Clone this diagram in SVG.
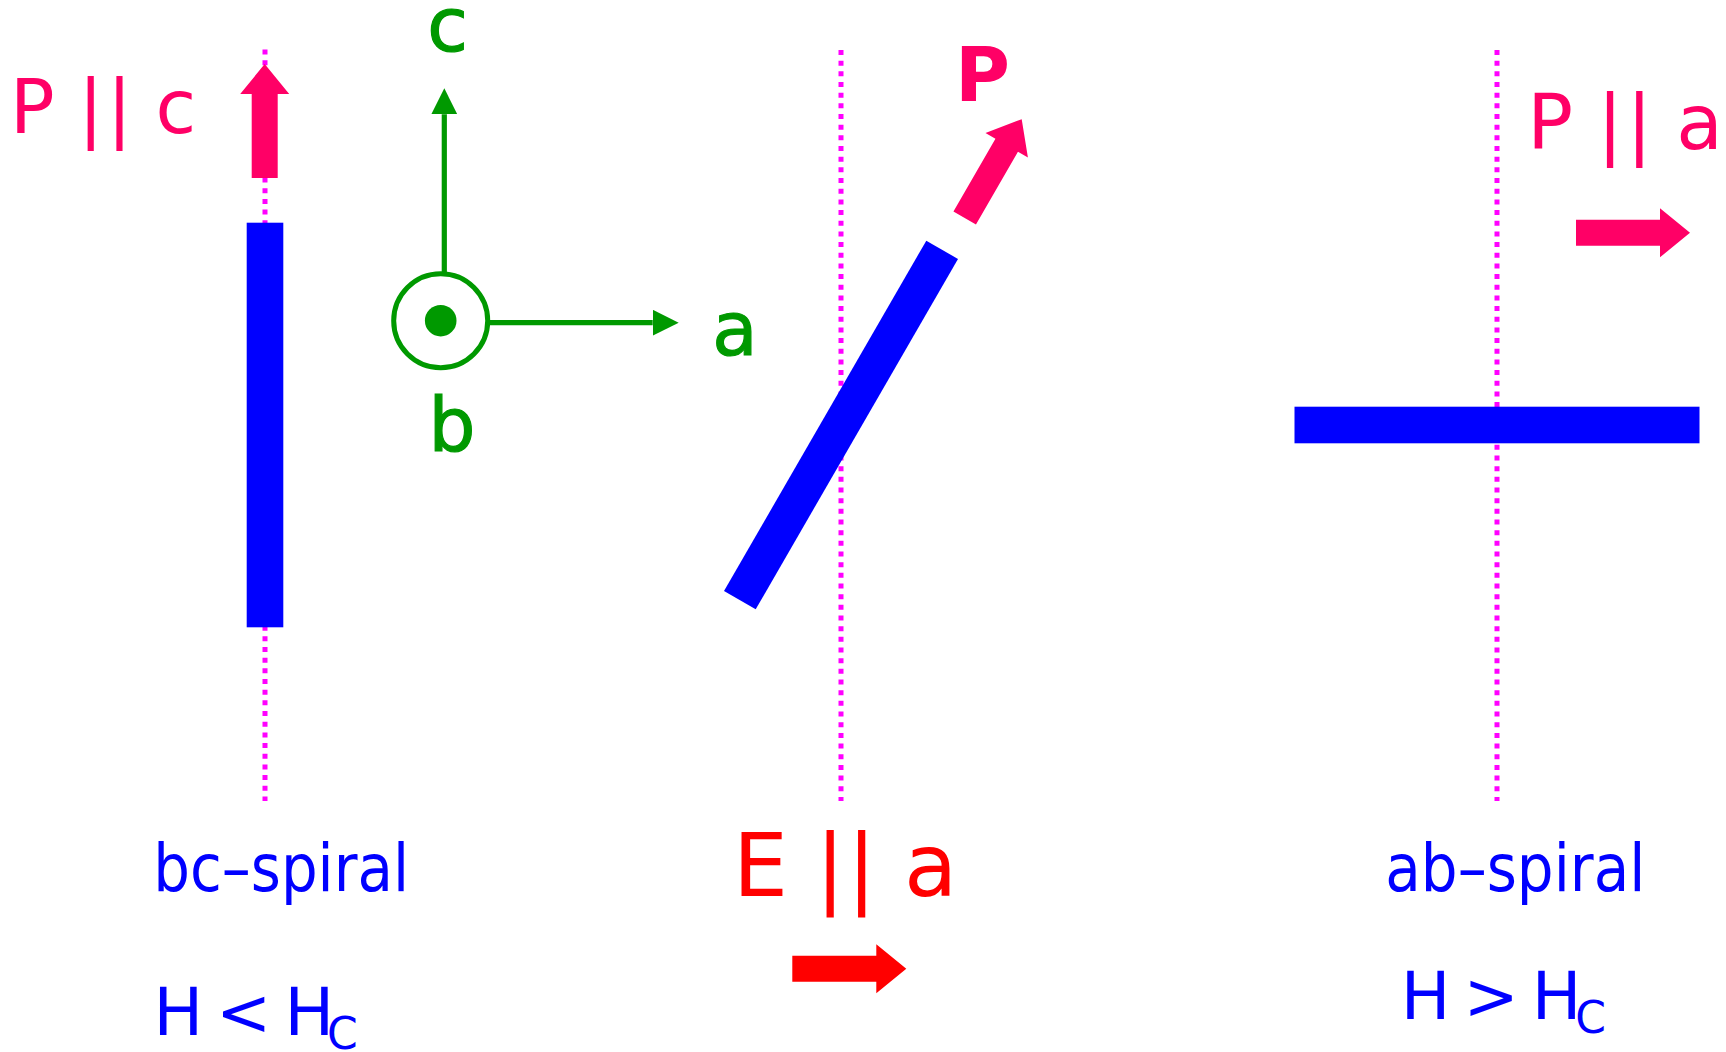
<svg xmlns="http://www.w3.org/2000/svg" xmlns:xlink="http://www.w3.org/1999/xlink" width="1726" height="1052" viewBox="0 0 1726 1052">
  <style>
    .dot { stroke: #FF00FF; stroke-width: 5; stroke-dasharray: 5 5.67; fill: none; }
    .bar { fill: #0000FF; }
    .pink { fill: #FF0066; }
    .red { fill: #FF0000; }
    .axis { stroke: #009900; stroke-width: 5.2; fill: none; }
    .glbl { fill: #009900; font-family: "DejaVu Sans", sans-serif; font-size: 74px; text-anchor: middle; stroke: #009900; stroke-width: 1.2; }
    .ptxt { fill: #FF0066; font-family: "DejaVu Sans", sans-serif; }
    .btxt { fill: #0000FF; font-family: "DejaVu Sans", sans-serif; font-size: 66px; }
  </style>
  <defs>
    <path id="blockArrow" d="M0,-13 H84 V-24.5 L114,0 L84,24.5 V13 H0 Z"/>
    <marker id="gHead" markerUnits="userSpaceOnUse" viewBox="0 0 26 26" markerWidth="26" markerHeight="26" refX="0" refY="13" orient="auto">
      <path d="M0,0 L26,13 L0,26 Z" fill="#009900"/>
    </marker>
  </defs>
  <rect width="1726" height="1052" fill="#FFFFFF"/>

  <g id="connectors">
    <line class="dot" x1="265" y1="49.5" x2="265" y2="801"/>
    <line class="dot" x1="841" y1="50" x2="841" y2="801"/>
    <line class="dot" x1="1497" y1="50" x2="1497" y2="801"/>
    <line class="axis" x1="444.3" y1="273" x2="444.3" y2="114.3" marker-end="url(#gHead)"/>
    <line class="axis" x1="489" y1="322.7" x2="652.7" y2="322.7" marker-end="url(#gHead)"/>
  </g>

  <g id="bc-spiral">
    <rect class="bar" x="246.7" y="222.7" width="36.6" height="404.6"/>
    <use xlink:href="#blockArrow" class="pink" transform="translate(264.7,178) rotate(-90)"/>
    <text class="ptxt" font-size="74" x="10" y="132.7">P |<tspan dx="4">| c</tspan></text>
    <text class="btxt" x="153.3" y="890.7" textLength="255.7" lengthAdjust="spacingAndGlyphs">bc–spiral</text>
    <text class="btxt" x="153.5" y="1035" word-spacing="-8">H &lt; H<tspan font-size="44" dx="-7" dy="13.5">C</tspan></text>
  </g>

  <g id="tilted">
    <rect class="bar" x="822.7" y="222.7" width="36.6" height="404.6" transform="rotate(30 841 425)"/>
    <use xlink:href="#blockArrow" class="pink" transform="translate(964.7,217.9) rotate(-60)"/>
    <text class="ptxt" font-size="75" font-weight="bold" x="955" y="100.7">P</text>
    <text class="ptxt" style="fill:#FF0000" font-size="87" x="733" y="896">E |<tspan dx="2">| a</tspan></text>
    <use xlink:href="#blockArrow" class="red" transform="translate(792.3,968.8)"/>
  </g>

  <g id="ab-spiral">
    <rect class="bar" x="1294.5" y="406.7" width="405" height="36.6"/>
    <use xlink:href="#blockArrow" class="pink" transform="translate(1576,232.8)"/>
    <text class="ptxt" font-size="76" x="1527.3" y="149">P |<tspan dx="3.5">| a</tspan></text>
    <text class="btxt" x="1385.3" y="890.7" textLength="260" lengthAdjust="spacingAndGlyphs">ab–spiral</text>
    <text class="btxt" x="1400.8" y="1019" word-spacing="-8">H &gt; H<tspan font-size="44" dx="-6" dy="13.8">C</tspan></text>
  </g>

  <g id="axes">
    <circle cx="440.7" cy="320.7" r="47" fill="none" stroke="#009900" stroke-width="5"/>
    <circle cx="440.7" cy="320.7" r="15.8" fill="#009900"/>
    <text class="glbl" x="447.5" y="51">c</text>
    <text class="glbl" x="735" y="355">a</text>
    <text class="glbl" x="452" y="451">b</text>
  </g>
</svg>
